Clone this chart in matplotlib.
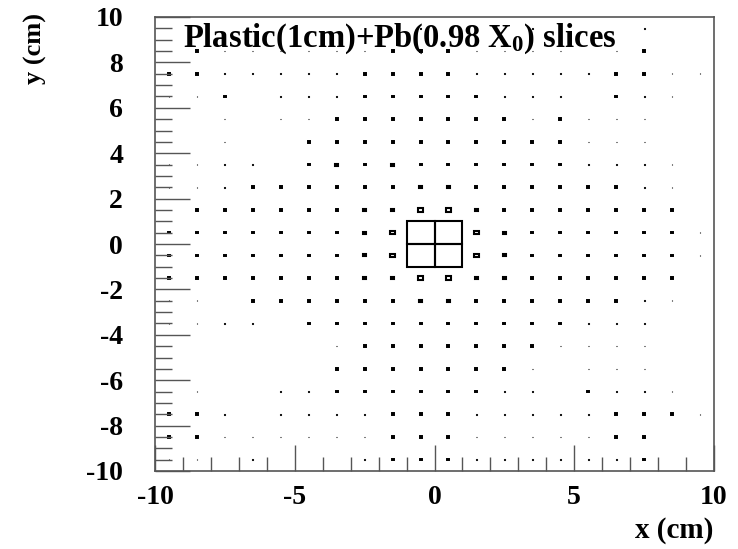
import numpy as np
import matplotlib
matplotlib.use("Agg")
import matplotlib.pyplot as plt
from matplotlib.patches import Rectangle

plt.rcParams['font.family'] = ['Liberation Serif', 'DejaVu Serif']
plt.rcParams['font.weight'] = 'bold'
plt.rcParams['axes.unicode_minus'] = False
plt.rcParams['mathtext.fontset'] = 'custom'
plt.rcParams['mathtext.rm'] = 'Liberation Serif:bold'
plt.rcParams['mathtext.it'] = 'Liberation Serif:bold'
plt.rcParams['mathtext.bf'] = 'Liberation Serif:bold'

# bin edges (cm)
x_edges = np.arange(-10, 11, 1)
y_edges = np.arange(-10, 11, 1)

# bin contents, rows from y=+9.5 (top) down to y=-9.5, columns x=-9.5 .. 9.5
counts = [
    [0, 0, 0, 0, 0, 0, 0, 0, 0, 3, 0, 0, 0, 3, 0, 0, 0, 3, 0, 0],
    [0, 7, 3, 3, 3, 3, 3, 3, 7, 7, 7, 3, 3, 3, 3, 0, 3, 7, 0, 0],
    [7, 7, 3, 3, 3, 3, 3, 7, 7, 7, 7, 3, 3, 3, 3, 3, 7, 7, 3, 3],
    [3, 3, 7, 0, 3, 3, 3, 7, 7, 7, 7, 7, 3, 3, 3, 0, 7, 3, 3, 0],
    [3, 3, 3, 0, 3, 3, 7, 7, 7, 7, 7, 7, 7, 3, 7, 3, 3, 3, 0, 0],
    [3, 3, 3, 0, 0, 7, 7, 7, 7, 7, 7, 7, 7, 7, 7, 3, 3, 3, 3, 0],
    [3, 3, 3, 3, 0, 7, 9, 7, 9, 7, 7, 7, 7, 7, 7, 3, 3, 3, 3, 0],
    [3, 3, 3, 7, 7, 7, 7, 7, 7, 10, 10, 7, 7, 7, 7, 7, 7, 3, 3, 0],
    [3, 7, 7, 7, 7, 7, 7, 10, 12, 15, 15, 12, 7, 7, 7, 7, 7, 7, 7, 0],
    [7, 7, 7, 7, 7, 7, 7, 10, 15, 100, 100, 15, 10, 7, 7, 7, 7, 7, 7, 3],
    [7, 7, 7, 7, 7, 7, 7, 10, 15, 100, 100, 15, 10, 7, 7, 7, 7, 7, 7, 3],
    [7, 7, 7, 7, 7, 7, 7, 10, 12, 15, 15, 12, 10, 7, 7, 7, 7, 7, 7, 3],
    [3, 3, 0, 7, 7, 7, 7, 7, 7, 10, 10, 7, 7, 7, 7, 7, 7, 3, 3, 0],
    [3, 3, 3, 3, 0, 7, 7, 7, 7, 7, 7, 7, 7, 7, 7, 3, 3, 3, 0, 0],
    [3, 3, 0, 0, 0, 0, 3, 7, 7, 7, 7, 7, 7, 7, 3, 3, 3, 3, 3, 0],
    [3, 3, 0, 0, 0, 0, 7, 7, 7, 7, 7, 7, 7, 3, 0, 3, 3, 3, 3, 0],
    [0, 3, 0, 0, 3, 3, 7, 7, 7, 7, 7, 7, 3, 3, 0, 7, 3, 3, 3, 0],
    [7, 7, 3, 0, 3, 3, 3, 3, 7, 7, 7, 3, 3, 3, 3, 3, 7, 7, 7, 3],
    [7, 7, 3, 3, 3, 3, 3, 3, 7, 7, 7, 3, 3, 3, 3, 3, 7, 7, 3, 3],
    [3, 3, 0, 3, 0, 0, 0, 3, 7, 7, 7, 3, 3, 3, 3, 3, 3, 7, 0, 0],
]

title = "Plastic(1cm)+Pb(0.98 X$_0$) slices"
x_title = "x (cm)"
y_title = "y (cm)"

W, H = 738, 549
fig = plt.figure(figsize=(W / 100, H / 100), dpi=100)
ax = fig.add_axes([155 / W, 1 - 471 / H, (714 - 155) / W, (471 - 17) / H])

c = np.array(counts, dtype=float)[::-1]  # row 0 -> lowest y
cmax = c.max()
xc = 0.5 * (x_edges[:-1] + x_edges[1:])
yc = 0.5 * (y_edges[:-1] + y_edges[1:])
dx = np.diff(x_edges)
dy = np.diff(y_edges)
for j in range(len(yc)):
    for i in range(len(xc)):
        v = c[j, i]
        if v <= 0:
            continue
        r = v / cmax
        w = dx[i] * r
        h = dy[j] * r
        lw = float(np.clip(r * 20, 0.8, 1.5))
        ax.add_patch(Rectangle((xc[i] - w / 2, yc[j] - h / 2), w, h,
                               facecolor='none', edgecolor='black', linewidth=lw))

ax.set_xlim(-10, 10)
ax.set_ylim(-10, 10)
ax.set_xticks([-10, -5, 0, 5, 10])
ax.set_xticks(np.arange(-10, 11, 1), minor=True)
ax.set_yticks(np.arange(-10, 11, 2))
ax.set_yticks(np.arange(-10, 10.5, 0.5), minor=True)
ax.tick_params(axis='both', which='both', direction='in', top=False, right=False,
               width=1.0, color='#555555')
ax.tick_params(axis='x', which='major', length=19, pad=10, labelsize=20)
ax.tick_params(axis='x', which='minor', length=10)
ax.tick_params(axis='y', which='major', length=25, pad=23, labelsize=20)
ax.tick_params(axis='y', which='minor', length=12)
for lab in ax.get_xticklabels() + ax.get_yticklabels():
    lab.set_fontweight('bold')
for s in ax.spines.values():
    s.set_color('#555555')
    s.set_linewidth(1.2)

ax.text(0.05, 0.952, title, transform=ax.transAxes, fontsize=23.5,
        fontweight='bold', ha='left', va='center')
fig.text(713 / W, 1 - 530 / H, x_title, fontsize=21, fontweight='bold',
         ha='right', va='center')
fig.text(35 / W, 1 - 13 / H, y_title, fontsize=19, fontweight='bold',
         ha='center', va='top', rotation=90)

fig.savefig("out.png", dpi=100)
